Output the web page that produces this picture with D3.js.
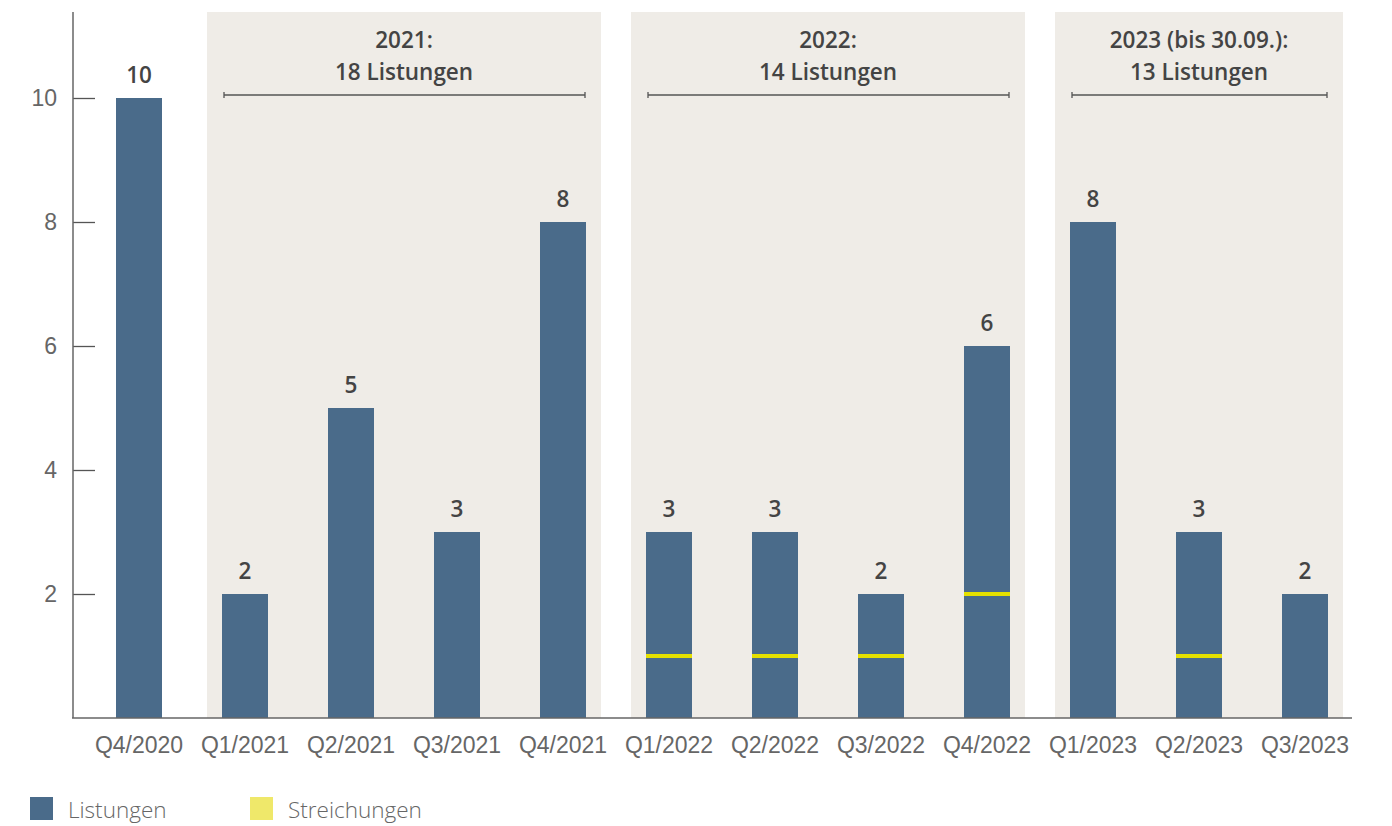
<!DOCTYPE html>
<html>
<head>
<meta charset="utf-8">
<script src="https://cdn.jsdelivr.net/npm/d3@7"></script>
<style>
  body { margin: 0; background: #fff; }
  svg { font-family: "Open Sans", sans-serif; }
</style>
</head>
<body>
<svg id="chart" width="1392" height="826"></svg>
<script>
var quarters = ["Q4/2020", "Q1/2021", "Q2/2021", "Q3/2021", "Q4/2021",
                "Q1/2022", "Q2/2022", "Q3/2022", "Q4/2022",
                "Q1/2023", "Q2/2023", "Q3/2023"];
var listungen = [10, 2, 5, 3, 8, 3, 3, 2, 6, 8, 3, 2];
var streichungen = [0, 0, 0, 0, 0, 1, 1, 1, 2, 0, 1, 0];
var yTicks = [2, 4, 6, 8, 10];
var groupFirst = ["Q1/2021", "Q1/2022", "Q1/2023"];
var groupLast = ["Q4/2021", "Q4/2022", "Q3/2023"];
var groupTitle = ["2021:", "2022:", "2023 (bis 30.09.):"];
var groupSub = ["18 Listungen", "14 Listungen", "13 Listungen"];
var legendLabels = ["Listungen", "Streichungen"];

var BAR = "#4a6b8a", YEL = "#e5e000", YEL_LEG = "#efe86a", SHADE = "#efece7";
var svg = d3.select("#chart");

var x = d3.scaleBand().domain(quarters).range([86, 1358])
    .paddingInner(60 / 106).paddingOuter(30 / 106);
var y = d3.scaleLinear().domain([0, 10]).range([718, 98]);
var bw = x.bandwidth();

// group shading
var groups = groupFirst.map(function(f, i) {
    return { first: f, last: groupLast[i], title: groupTitle[i], sub: groupSub[i] };
});
var g = svg.append("g").selectAll("g").data(groups).enter().append("g");
g.append("rect")
    .attr("x", function(d) { return x(d.first) - 15; })
    .attr("y", 12)
    .attr("width", function(d) { return x(d.last) + bw + 15 - (x(d.first) - 15); })
    .attr("height", 706)
    .attr("fill", SHADE);
g.append("path")
    .attr("d", function(d) {
        var a = x(d.first) + 2, b = x(d.last) + bw - 1;
        return "M" + a + ",95H" + b + "M" + a + ",92V98M" + b + ",92V98";
    })
    .attr("stroke", "#555").attr("stroke-width", 1.3).attr("fill", "none");
g.append("text")
    .attr("x", function(d) { return (x(d.first) + x(d.last) + bw) / 2; })
    .attr("y", 48).attr("text-anchor", "middle")
    .attr("font-size", 22.5).attr("font-weight", 600).attr("fill", "#444")
    .text(function(d) { return d.title; });
g.append("text")
    .attr("x", function(d) { return (x(d.first) + x(d.last) + bw) / 2; })
    .attr("y", 80).attr("text-anchor", "middle")
    .attr("font-size", 22.5).attr("font-weight", 600).attr("fill", "#444")
    .text(function(d) { return d.sub; });

// bars
var data = quarters.map(function(q, i) {
    return { q: q, v: listungen[i], s: streichungen[i] };
});
svg.append("g").selectAll("rect").data(data).enter().append("rect")
    .attr("x", function(d) { return x(d.q); })
    .attr("y", function(d) { return y(d.v); })
    .attr("width", bw)
    .attr("height", function(d) { return y(0) - y(d.v); })
    .attr("fill", BAR);

svg.append("g").selectAll("rect").data(data.filter(function(d) { return d.s > 0; }))
    .enter().append("rect")
    .attr("x", function(d) { return x(d.q); })
    .attr("y", function(d) { return y(d.s) - 2; })
    .attr("width", bw)
    .attr("height", 4)
    .attr("fill", YEL);

svg.append("g").selectAll("text").data(data).enter().append("text")
    .attr("x", function(d) { return x(d.q) + bw / 2; })
    .attr("y", function(d) { return y(d.v) - 15; })
    .attr("text-anchor", "middle")
    .attr("font-size", 22.5).attr("font-weight", 600).attr("fill", "#444")
    .text(function(d) { return d.v; });

// y axis
var yAxis = svg.append("g").attr("transform", "translate(73,0)")
    .call(d3.axisRight(y).tickValues(yTicks).tickSize(22).tickFormat(d3.format("d")));
yAxis.select(".domain").remove();
yAxis.selectAll(".tick line").attr("stroke", "#555").attr("stroke-width", 1.3);
yAxis.selectAll(".tick text").attr("x", -16).attr("text-anchor", "end")
    .attr("font-size", 23).attr("font-weight", 300).attr("fill", "#666");
svg.append("line").attr("x1", 73).attr("x2", 73).attr("y1", 12).attr("y2", 718)
    .attr("stroke", "#666").attr("stroke-width", 1.5);

// x axis
var xAxis = svg.append("g").attr("transform", "translate(0,718)")
    .call(d3.axisBottom(x).tickSize(0).tickPadding(19));
xAxis.select(".domain").remove();
xAxis.selectAll(".tick text").attr("font-size", 23).attr("font-weight", 300).attr("fill", "#666");
svg.append("line").attr("x1", 72).attr("x2", 1352).attr("y1", 718).attr("y2", 718)
    .attr("stroke", "#666").attr("stroke-width", 1.5);

// legend
var legColors = [BAR, YEL_LEG];
var leg = svg.append("g").selectAll("g").data(legendLabels).enter().append("g")
    .attr("transform", function(d, i) { return "translate(" + (30 + i * 220) + ",797)"; });
leg.append("rect").attr("width", 23).attr("height", 23)
    .attr("fill", function(d, i) { return legColors[i]; });
leg.append("text").attr("x", 38).attr("y", 21)
    .attr("font-size", 22.5).attr("font-weight", 300).attr("fill", "#666")
    .text(function(d) { return d; });
</script>
</body>
</html>
